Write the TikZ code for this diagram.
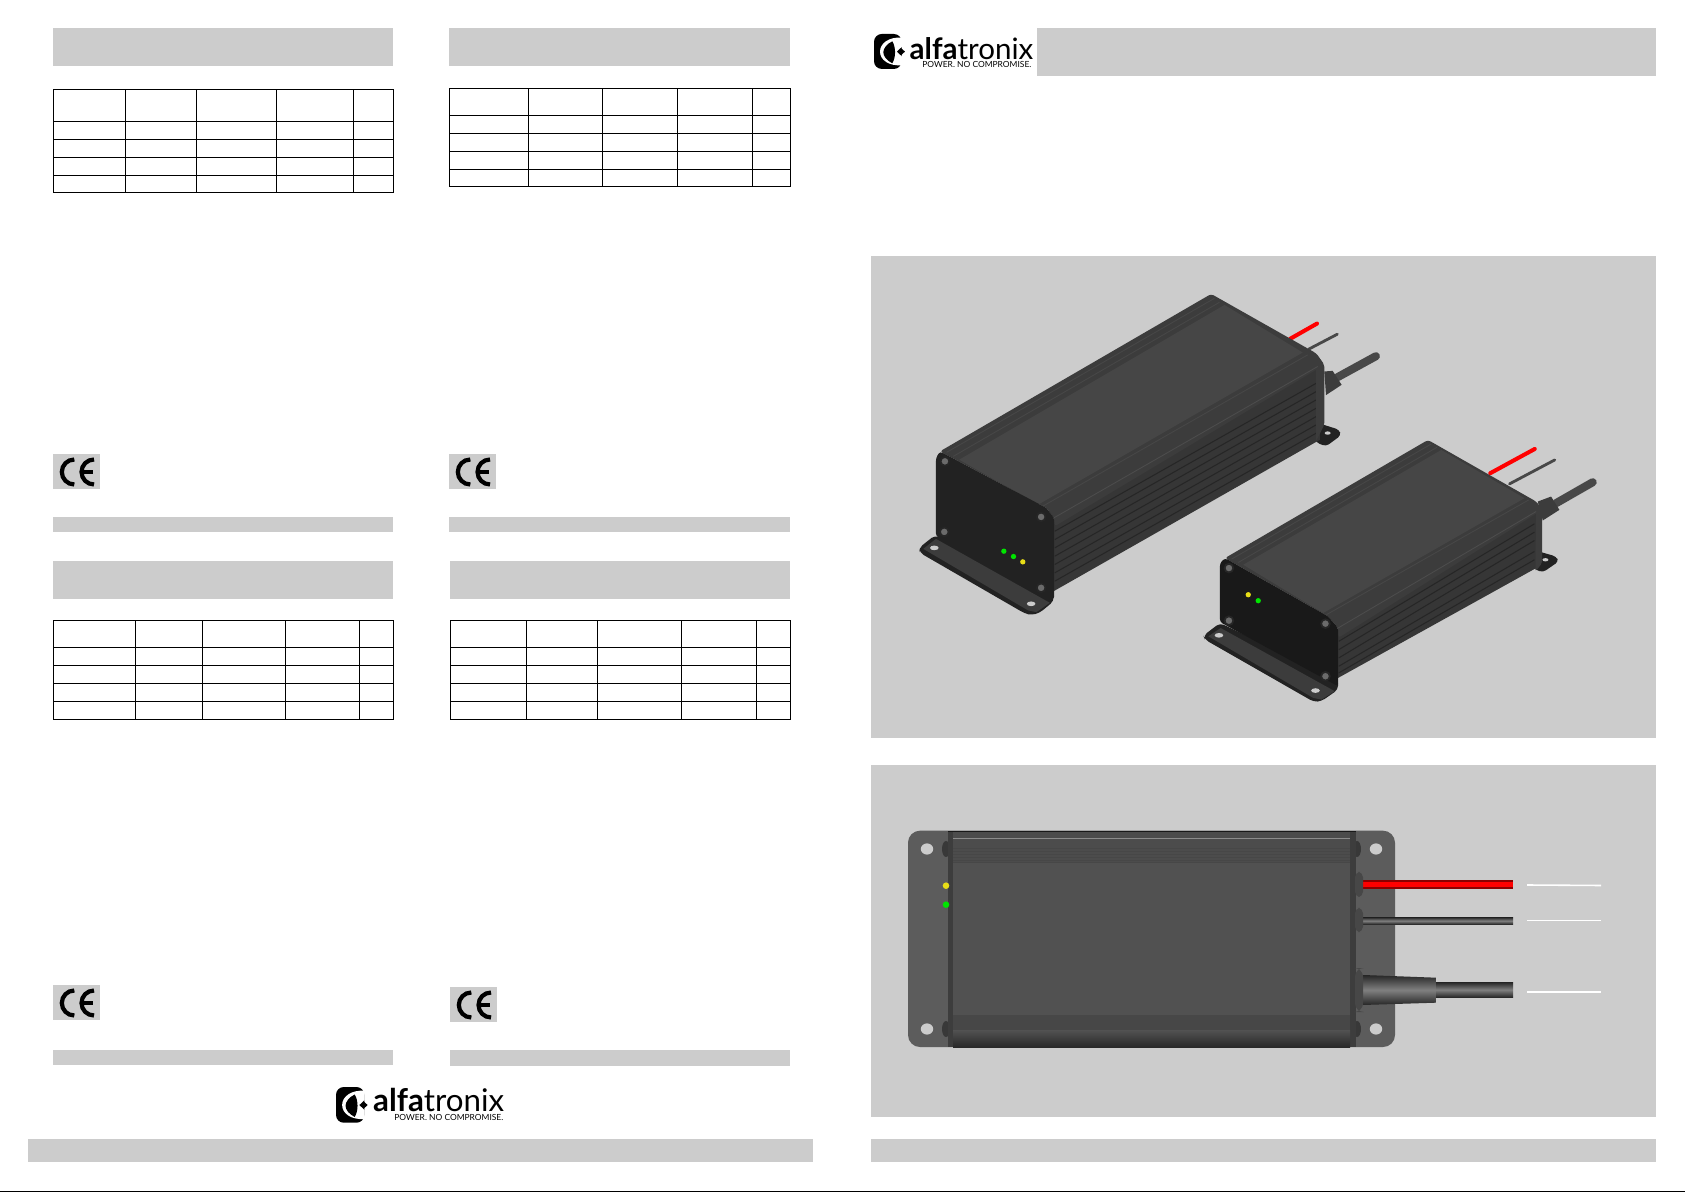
\documentclass[tikz,border=0pt]{standalone}
\usepackage{fontspec}
\setmainfont{Lato}
\definecolor{band}{HTML}{CCCCCC}
\definecolor{frontdark}{HTML}{222222}
\definecolor{topdark}{HTML}{464646}
\definecolor{framedark}{HTML}{3C3C3C}
\definecolor{sidedark}{HTML}{363636}
\definecolor{ribdark}{HTML}{262626}
\definecolor{wiregrey}{HTML}{484848}
\definecolor{plategrey}{HTML}{5C5C5C}
\definecolor{bodygrey}{HTML}{515151}
\tikzset{
  bandbox/.style={fill=band, draw=none},
  gridline/.style={draw=black, line width=0.4pt},
  cestroke/.style={draw=black, line width=1.2pt},
  rib/.style={draw=ribdark, line width=0.3pt},
  toprib/.style={draw=black!72, line width=0.25pt},
  screw/.style={fill=black!58, draw=black!85, line width=0.5pt},
  logotext/.style={inner sep=0pt, anchor=base west},
  smallunits/.style={x=0.003333cm, y=-0.003333cm},
}
\newcommand{\cemark}[2]{%
  \begin{scope}[shift={(#1,#2)}]
    \fill [band] (0,0) rectangle (47,35);
    \draw [cestroke] (21.3,5.5) arc (270:90:12.5);
    \draw [cestroke] (41,5.5) arc (270:90:12.5);
    \draw [cestroke] (29.7,18) -- (40,18);
  \end{scope}}
\newcommand{\alfasymbol}[3]{%
  \begin{scope}[shift={(#1,#2)}, x=#3cm, y=-#3cm]
    \fill [black, rounded corners=2.2pt] (0,0) -- (0,105) -- (83,105) -- (83,0) -- cycle;
    \fill [white] (84,11) .. controls (45,8) and (18,28) .. (18,53)
      .. controls (18,78) and (45,97) .. (84,94) -- (84,68) -- (68,53) -- (84,38) -- cycle;
    \fill [black] (55,22) .. controls (38,30) and (28,44) .. (28,55)
      .. controls (28,66) and (38,80) .. (55,88)
      .. controls (66,70) and (66,40) .. (55,22) -- cycle;
    \fill [black] (82,43) -- (93,53) -- (82,63) -- (74,53) -- cycle;
  \end{scope}}

\begin{document}
\begin{tikzpicture}[x=0.01cm, y=-0.01cm]
    \useasboundingbox (0,0) rectangle (1685,1192);
    % left page, four data blocks
    \fill [bandbox] (53,28) rectangle (393,66);
    \draw [gridline] (53.3,89.3) rectangle (393.3,192.3);
    \draw [gridline] (125.5,89.3) -- (125.5,192.3) (196.3,89.3) -- (196.3,192.3) (276.3,89.3) -- (276.3,192.3) (353.3,89.3) -- (353.3,192.3);
    \draw [gridline] (53.3,121.3) -- (393.3,121.3) (53.3,139.3) -- (393.3,139.3) (53.3,157.3) -- (393.3,157.3) (53.3,175.3) -- (393.3,175.3);
    \cemark{53}{454}
    \fill [bandbox] (53,517) rectangle (393,532);

    \fill [bandbox] (449,28) rectangle (790,66);
    \draw [gridline] (449.3,88.3) rectangle (790.3,186.3);
    \draw [gridline] (528.3,88.3) -- (528.3,186.3) (602.3,88.3) -- (602.3,186.3) (677.3,88.3) -- (677.3,186.3) (752.7,88.3) -- (752.7,186.3);
    \draw [gridline] (449.3,115.3) -- (790.3,115.3) (449.3,133.3) -- (790.3,133.3) (449.3,151.3) -- (790.3,151.3) (449.3,169.3) -- (790.3,169.3);
    \cemark{449}{454}
    \fill [bandbox] (449,517) rectangle (790,532);

    \fill [bandbox] (53,561) rectangle (393,599);
    \draw [gridline] (53.3,620.3) rectangle (393.3,719.3);
    \draw [gridline] (135.3,620.3) -- (135.3,719.3) (202.7,620.3) -- (202.7,719.3) (285.3,620.3) -- (285.3,719.3) (359.3,620.3) -- (359.3,719.3);
    \draw [gridline] (53.3,647.3) -- (393.3,647.3) (53.3,665.3) -- (393.3,665.3) (53.3,683.3) -- (393.3,683.3) (53.3,701.3) -- (393.3,701.3);
    \cemark{53}{985}
    \fill [bandbox] (53,1050) rectangle (393,1065);

    \fill [bandbox] (450,561) rectangle (790,599);
    \draw [gridline] (450.3,620.3) rectangle (790.3,719.3);
    \draw [gridline] (526.3,620.3) -- (526.3,719.3) (597.3,620.3) -- (597.3,719.3) (681.3,620.3) -- (681.3,719.3) (756.3,620.3) -- (756.3,719.3);
    \draw [gridline] (450.3,647.3) -- (790.3,647.3) (450.3,665.3) -- (790.3,665.3) (450.3,683.3) -- (790.3,683.3) (450.3,701.3) -- (790.3,701.3);
    \cemark{450}{987}
    \fill [bandbox] (450,1050) rectangle (790,1066);

    % left page, logo and foot
    \alfasymbol{336}{1087}{0.0034}
    \node (logoleft) [logotext, font=\fontsize{8.9pt}{10pt}\selectfont] at (372.5,1111.7) {\textbf{alfa}tronix};
    \node (tagleft) [logotext, font=\fontsize{2.4pt}{3pt}\selectfont, anchor=base east] at (504,1120.5) {POWER. NO COMPROMISE.};
    \fill [bandbox] (28,1139) rectangle (813,1162);

    % right page, head
    \alfasymbol{874}{34}{0.00333}
    \node (logoright) [logotext, font=\fontsize{8.4pt}{10pt}\selectfont] at (909,59.3) {\textbf{alfa}tronix};
    \node (tagright) [logotext, font=\fontsize{2.4pt}{3pt}\selectfont, anchor=base east] at (1032,67.5) {POWER. NO COMPROMISE.};
    \fill [bandbox] (1037,28) rectangle (1656,76);

    % panels
    \fill [bandbox] (870.5,256) rectangle (1656,738);
    \fill [bandbox] (870.5,765) rectangle (1656,1116.5);
    \fill [bandbox] (871,1139) rectangle (1656,1162);

    % large unit, coordinates as in a 3x crop
    \begin{scope}[shift={(900,270)}, smallunits]
      \fill [frontdark, rounded corners=1pt] (1225,450) -- (1320,480) -- (1325,497) -- (1280,530) -- (1250,518) -- cycle;
      \fill [band] (1285,490) ellipse (9 and 5);
      \draw [red, line width=1.15pt, line cap=round] (1172,207) -- (1253,161);
      \draw [wiregrey, line width=0.8pt, line cap=round] (1228,238) -- (1314,193);
      \draw [wiregrey, line width=2.3pt, line cap=round] (1315,322) -- (1430,259);
      \fill [framedark] (1275,305) -- (1300,303) -- (1327,345) -- (1280,376) -- cycle;
      \fill [sidedark] (462,745) -- (1255,290) -- (1262,510) -- (462,965) -- cycle;
      \draw [rib] (465,785) -- (1260,335) (465,810) -- (1260,360) (465,835) -- (1260,385) (465,860) -- (1260,410);
      \draw [rib] (465,885) -- (1260,435) (465,910) -- (1260,460) (465,935) -- (1260,485);
      \fill [framedark, rounded corners=0.6pt] (1250,250) -- (1275,285) -- (1275,465) -- (1250,515) -- cycle;
      \fill [framedark, rounded corners=0.8pt] (120,545) -- (935,72) -- (1250,250) -- (1275,285) -- (465,770) -- (462,745) -- (440,715) -- cycle;
      \fill [topdark] (178,570) -- (975,105) -- (1210,248) -- (415,705) -- cycle;
      \draw [toprib] (140,548) -- (945,85) (160,560) -- (960,97) (425,712) -- (1225,255);
      \draw [black!70, line width=0.25pt] (462,745) -- (1255,290);
      \fill [frontdark, rounded corners=1.2pt] (57,835) -- (105,797) -- (462,960) -- (462,995) -- (420,1030) -- (395,1037) -- (375,1032) -- (60,850) -- cycle;
      \fill [framedark] (70,838) -- (108,808) -- (450,1000) -- (410,1028) -- (385,1023) -- cycle;
      \fill [frontdark, rounded corners=0.8pt] (108,565) -- (120,545) -- (440,715) -- (463,745) -- (463,990) -- (108,800) -- cycle;
      \fill [screw] (135,575) circle (13);
      \fill [screw] (133,787) circle (13);
      \fill [screw] (424,742) circle (13);
      \fill [screw] (424,955) circle (13);
      \fill [band] (103,835) ellipse (13 and 7);
      \fill [band] (394,1003) ellipse (13 and 7);
      \fill [green!90!black] (312,845) circle (8);
      \fill [green!90!black] (341,861) circle (8);
      \fill [yellow!90!black] (369,877) circle (8);
    \end{scope}

    % small unit, coordinates as in a 3x crop
    \begin{scope}[shift={(1190,420)}, smallunits]
      \fill [frontdark, rounded corners=1pt] (1030,390) -- (1100,410) -- (1108,425) -- (1060,458) -- (1035,448) -- cycle;
      \fill [band] (1068,420) ellipse (9 and 5);
      \draw [red, line width=1.15pt, line cap=round] (902,160) -- (1036,87);
      \draw [wiregrey, line width=0.8pt, line cap=round] (960,192) -- (1096,120);
      \draw [wiregrey, line width=2.3pt, line cap=round] (1100,250) -- (1210,187);
      \fill [framedark] (1045,245) -- (1085,230) -- (1110,270) -- (1060,302) -- cycle;
      \fill [sidedark] (445,625) -- (1040,275) -- (1040,445) -- (445,775) -- cycle;
      \draw [rib] (447,665) -- (1035,312) (447,690) -- (1035,337) (447,715) -- (1035,362) (447,740) -- (1035,395) (447,760) -- (1035,420);
      \fill [framedark, rounded corners=0.6pt] (1040,245) -- (1058,270) -- (1058,430) -- (1038,455) -- cycle;
      \fill [framedark, rounded corners=0.8pt] (105,415) -- (715,60) -- (1040,245) -- (1058,270) -- (445,655) -- (445,625) -- (415,590) -- cycle;
      \fill [topdark] (160,435) -- (755,90) -- (1005,235) -- (400,580) -- cycle;
      \draw [toprib] (125,418) -- (725,72) (145,428) -- (742,82) (410,585) -- (1018,240);
      \draw [black!70, line width=0.25pt] (445,625) -- (1040,275);
      \fill [frontdark, rounded corners=1.2pt] (40,648) -- (90,610) -- (445,780) -- (445,810) -- (395,845) -- (372,847) -- (45,660) -- cycle;
      \fill [framedark] (55,650) -- (92,625) -- (435,815) -- (395,840) -- (370,835) -- cycle;
      \fill [black!90, rounded corners=0.8pt] (90,430) -- (105,415) -- (415,590) -- (445,625) -- (445,800) -- (90,607) -- cycle;
      \fill [screw] (117,445) circle (13);
      \fill [screw] (117,603) circle (13);
      \fill [screw] (407,612) circle (13);
      \fill [screw] (407,770) circle (13);
      \fill [band] (87,647) ellipse (13 and 7);
      \fill [band] (377,813) ellipse (13 and 7);
      \fill [yellow!90!black] (175,525) circle (8);
      \fill [green!90!black] (205,543) circle (8);
    \end{scope}

    % top view of the unit
    \fill [plategrey, rounded corners=3.4pt] (908,830.7) rectangle (1395,1047);
    \fill [band] (927,849) ellipse (6.2 and 5.6);
    \fill [band] (927,1029) ellipse (6.2 and 5.6);
    \fill [band] (1376,849) ellipse (6.2 and 5.6);
    \fill [band] (1376,1029) ellipse (6.2 and 5.6);
    \fill [black!78] (946,849) ellipse (4 and 8);
    \fill [black!78] (946,1029) ellipse (4 and 8);
    \fill [black!78] (1357,849) ellipse (4 and 8);
    \fill [black!78] (1357,1029) ellipse (4 and 8);
    \fill [bodygrey] (948,831) rectangle (1356,1047);
    \fill [black!76] (948,831) rectangle (953,1047);
    \fill [black!76] (1350,831) rectangle (1356,1047);
    \fill [black!70] (953,831) rectangle (1350,846);
    \draw [black!90, line width=0.5pt] (948,831.5) -- (1356,831.5);
    \draw [black!45, line width=0.3pt] (953,838.5) -- (1350,838.5);
    \fill [black!70] (953,846) rectangle (1350,863);
    \draw [toprib] (953,848) -- (1350,848) (953,851) -- (1350,851) (953,854) -- (1350,854) (953,857) -- (1350,857) (953,860) -- (1350,860) (953,862.5) -- (1350,862.5);
    \fill [black!72] (953,1015) rectangle (1350,1030);
    \draw [toprib] (953,1016) -- (1350,1016) (953,1019) -- (1350,1019) (953,1022) -- (1350,1022) (953,1025) -- (1350,1025) (953,1028) -- (1350,1028);
    \shade [top color=black!68, bottom color=black!84] (953,1030) rectangle (1350,1047);
    % leds
    \fill [yellow!90!black] (946,885.7) circle (3.3);
    \fill [green!90!black] (946,904.7) circle (3.3);
    % grommets, wires
    \fill [red] (1363,880.7) rectangle (1513,888.3);
    \draw [red!55!black, line width=0.3pt] (1363,881) -- (1513,881) (1363,888) -- (1513,888);
    \shade [top color=black!85, bottom color=black!85, middle color=black!50] (1363,917.3) rectangle (1513,924.3);
    \shade [top color=black!85, bottom color=black!85, middle color=black!50] (1363,975) -- (1436,977.7) -- (1436,1002.7) -- (1363,1005) -- cycle;
    \shade [top color=black!85, bottom color=black!85, middle color=black!50] (1436,982.3) rectangle (1513,997.3);
    \fill [black!72, rounded corners=1.5pt] (1355,872) rectangle (1363,897);
    \fill [black!72, rounded corners=1.5pt] (1355,908) rectangle (1363,932);
    \fill [black!72, rounded corners=2.5pt] (1355,968) rectangle (1363,1012);
    % white leader lines
    \draw [white, line width=0.45pt] (1527,885) -- (1601,885.5);
    \draw [white, line width=0.3pt] (1527,920.3) -- (1601,920.3);
    \draw [white, line width=0.55pt] (1527,992) -- (1601,992);

    % foot rule
    \fill [black] (0,1190.6) rectangle (1685,1192);
\end{tikzpicture}
\end{document}
